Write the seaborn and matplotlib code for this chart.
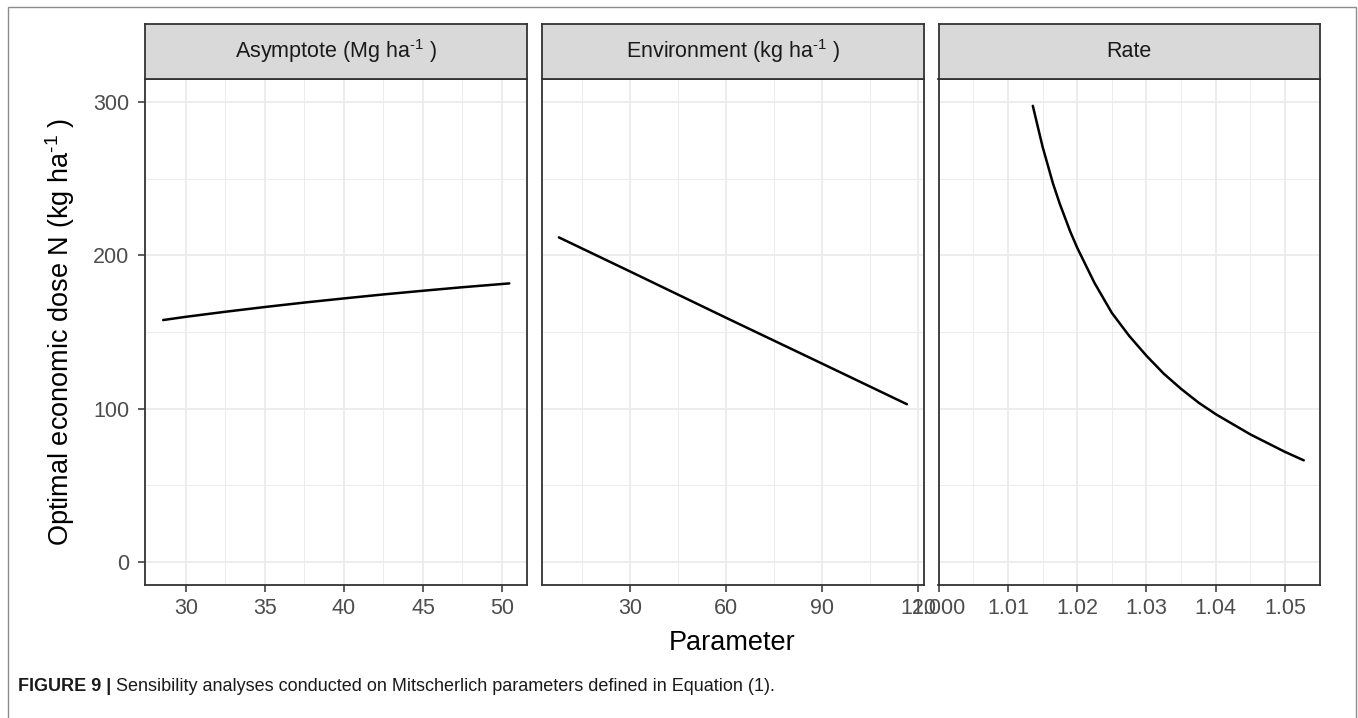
import matplotlib
matplotlib.use("Agg")
import matplotlib.pyplot as plt
from matplotlib import font_manager
from matplotlib.patches import Rectangle
import numpy as np
import pandas as pd
import seaborn as sns

# ---------------- data ----------------
panel_names = ["Asymptote", "Environment", "Rate"]
strip_labels = [r"Asymptote (Mg ha$^{\text{-}1}$ )", r"Environment (kg ha$^{\text{-}1}$ )", "Rate"]

asym_x = [28.57, 30.0, 32.5, 35.0, 37.5, 40.0, 42.5, 45.0, 47.5, 50.0, 50.46]
asym_y = [157.8, 159.9, 163.2, 166.3, 169.2, 171.9, 174.5, 176.9, 179.2, 181.3, 181.7]

env_x = [7.8, 30.0, 60.0, 90.0, 116.5]
env_y = [211.7, 189.5, 159.3, 129.4, 102.9]

rate_x = [1.0136, 1.015, 1.0165, 1.0175, 1.019, 1.02, 1.0225, 1.025, 1.0275,
          1.03, 1.0325, 1.035, 1.0375, 1.04, 1.045, 1.05, 1.0527]
rate_y = [297.5, 271.0, 247.0, 233.5, 215.5, 205.0, 182.0, 162.5, 147.5,
          134.5, 122.8, 112.9, 104.0, 96.4, 83.2, 71.8, 66.3]

x_ticks = [[30, 35, 40, 45, 50], [30, 60, 90, 120], [1.00, 1.01, 1.02, 1.03, 1.04, 1.05]]
x_ticklabels = [["30", "35", "40", "45", "50"], ["30", "60", "90", "120"],
                ["1.000", "1.01", "1.02", "1.03", "1.04", "1.05"]]
x_minor = [[32.5, 37.5, 42.5, 47.5], [15, 45, 75, 105],
           [1.005, 1.015, 1.025, 1.035, 1.045]]
x_limits = [(27.42, 51.6), (2.4, 121.9), (0.99999, 1.055)]
y_ticks = [0, 100, 200, 300]
y_minor = [50, 150, 250]
y_limits = (-15, 315)

y_title = r"Optimal economic dose N (kg ha$^{\text{-}1}$ )"
x_title = "Parameter"
caption_bold = "FIGURE 9 | "
caption_text = "Sensibility analyses conducted on Mitscherlich parameters defined in Equation (1)."

df = pd.concat([
    pd.DataFrame({"param": "Asymptote", "value": asym_x, "dose": asym_y}),
    pd.DataFrame({"param": "Environment", "value": env_x, "dose": env_y}),
    pd.DataFrame({"param": "Rate", "value": rate_x, "dose": rate_y}),
], ignore_index=True)

# ---------------- style ----------------
sns.set_theme(style="white")
plt.rcParams["font.family"] = ["Liberation Sans", "DejaVu Sans"]
plt.rcParams["mathtext.fontset"] = "custom"
plt.rcParams["mathtext.rm"] = "Liberation Sans"
plt.rcParams["mathtext.it"] = "Liberation Sans:italic"
plt.rcParams["mathtext.bf"] = "Liberation Sans:bold"
plt.rcParams["mathtext.default"] = "regular"

W, H = 1358, 718
fig = plt.figure(figsize=(W / 100, H / 100), dpi=100)
fig.patch.set_facecolor("white")


def fx(px):
    return px / W


def fy(py):
    return 1 - py / H


panels = [(145.0, 527.3), (541.6, 924.2), (938.5, 1319.7)]
top, bottom, strip_top = 79.0, 585.0, 24.0
border_col = "#333333"
grid_col = "#EBEBEB"

for i, name in enumerate(panel_names):
    l, r = panels[i]
    ax = fig.add_axes([fx(l), fy(bottom), (r - l) / W, (bottom - top) / H])
    ax.set_facecolor("white")
    sub = df[df["param"] == name]
    sns.lineplot(data=sub, x="value", y="dose", ax=ax, color="black",
                 linewidth=1.8, estimator=None, sort=True, legend=False)
    ax.set_xlim(*x_limits[i])
    ax.set_ylim(*y_limits)
    ax.set_xticks(x_ticks[i])
    ax.set_xticklabels(x_ticklabels[i])
    ax.set_xticks(x_minor[i], minor=True)
    ax.set_yticks(y_ticks)
    ax.set_yticks(y_minor, minor=True)
    ax.grid(which="major", color=grid_col, linewidth=1.25)
    ax.grid(which="minor", color=grid_col, linewidth=0.65)
    ax.set_axisbelow(True)
    ax.set_xlabel("")
    ax.set_ylabel("")
    for sp in ax.spines.values():
        sp.set_color(border_col)
        sp.set_linewidth(1.3)
        sp.set_visible(True)
    ax.tick_params(which="minor", length=0)
    ax.tick_params(axis="both", which="major", length=4.8, width=1.1, color=border_col,
                   labelsize=15.5, labelcolor="#4D4D4D", pad=3.9,
                   bottom=True, left=(i == 0), labelleft=(i == 0))
    ax.tick_params(axis="x", pad=4.6)
    ax.tick_params(axis="y", pad=6.5)

    sax = fig.add_axes([fx(l), fy(top), (r - l) / W, (top - strip_top) / H])
    sax.set_facecolor("#D9D9D9")
    sax.set_xticks([])
    sax.set_yticks([])
    for sp in sax.spines.values():
        sp.set_color(border_col)
        sp.set_linewidth(1.3)
        sp.set_visible(True)
    sax.text(0.5, 0.5, strip_labels[i], ha="center", va="center",
             fontsize=15.5, color="#1A1A1A", transform=sax.transAxes)

# axis titles
fig.text(fx(60), fy(332), y_title, rotation=90, ha="center", va="center",
         fontsize=19.5, color="black")
fig.text(fx(732.5), fy(650), x_title, ha="center", va="baseline",
         fontsize=19.5, color="black")

# outer frame
fig.patches.append(Rectangle((fx(8), fy(740)), (1356 - 8) / W, (740 - 7) / H,
                             transform=fig.transFigure, fill=False,
                             edgecolor="#8C8C8C", linewidth=1.0, clip_on=False))

# caption
cap_family = ["Liberation Sans", "DejaVu Sans"]
try:
    font_manager.findfont("Liberation Sans Narrow", fallback_to_default=False)
    cap_family = ["Liberation Sans Narrow", "Liberation Sans", "DejaVu Sans"]
except Exception:
    pass

renderer = fig.canvas.get_renderer()
cap_size = 14.0
tb = fig.text(fx(18), fy(691), caption_bold, fontsize=cap_size, fontweight="bold",
              family=cap_family, color="#1A1A1A", va="baseline", ha="left")
bw = tb.get_window_extent(renderer).width
tr = fig.text(fx(18 + bw), fy(691), caption_text, fontsize=cap_size,
              family=cap_family, color="#1A1A1A", va="baseline", ha="left")
total = bw + tr.get_window_extent(renderer).width
scale = 762.0 / total
cap_size = cap_size * scale
tb.set_fontsize(cap_size)
tr.set_fontsize(cap_size)
bw = tb.get_window_extent(renderer).width
tr.set_x(fx(18 + bw))

fig.savefig("out.png", dpi=100)
